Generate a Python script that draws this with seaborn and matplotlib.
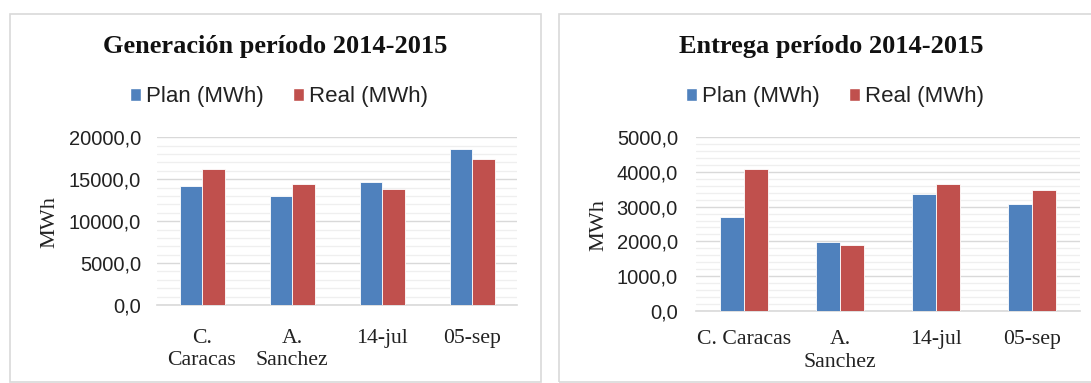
import matplotlib
matplotlib.use("Agg")
import matplotlib.pyplot as plt
from matplotlib.patches import Rectangle, Patch
from matplotlib.ticker import MultipleLocator, FuncFormatter
import pandas as pd
import seaborn as sns

# Data
lugares_gen = ["C.\nCaracas", "A.\nSanchez", "14-jul", "05-sep"]
lugares_ent = ["C. Caracas", "A.\nSanchez", "14-jul", "05-sep"]
series = ["Plan (MWh)", "Real (MWh)"]
gen_plan = [14250, 13050, 14650, 18600]
gen_real = [16250, 14450, 13850, 17400]
ent_plan = [2700, 1970, 3370, 3080]
ent_real = [4080, 1890, 3660, 3470]

titulo_gen = "Generación período 2014-2015"
titulo_ent = "Entrega período 2014-2015"
eje_y = "MWh"

AZUL = "#4F81BD"
ROJO = "#C0504D"
SERIF = ["Liberation Serif", "DejaVu Serif"]

sns.set_theme(style="white")
plt.rcParams["font.family"] = ["Liberation Sans", "DejaVu Sans"]

fig = plt.figure(figsize=(10.91, 3.83), dpi=100)
W, H = 1091, 383


def fx(px):
    return px / W


def fy(py):
    return 1 - py / H


# Panel frames
for x0, x1 in [(10, 541), (559, 1100)]:
    fig.patches.append(Rectangle((fx(x0), fy(381.5)), fx(x1 - x0), (381.5 - 14) / H,
                                 transform=fig.transFigure, fill=False,
                                 edgecolor="#D9D9D9", linewidth=1.2))


def fmt(v, _):
    return f"{v:.1f}".replace(".", ",")


def panel(box, lugares, plan, real, ymax, major, minor, title, title_xy,
          leg_xy, pad_x, pad_y, ylab_xy):
    x0, x1, ytop, ybot = box
    ax = fig.add_axes([fx(x0), fy(ybot), fx(x1 - x0), (ybot - ytop) / H])
    df = pd.DataFrame({
        "lugar": lugares * 2,
        "serie": [series[0]] * len(lugares) + [series[1]] * len(lugares),
        "valor": plan + real,
    })
    sns.barplot(data=df, x="lugar", y="valor", hue="serie", palette=[AZUL, ROJO],
                saturation=1, width=0.5, ax=ax, edgecolor="white", linewidth=0.6,
                zorder=3, legend=False)
    ax.set_ylim(0, ymax)
    ax.set_xlim(-0.5, len(lugares) - 0.5)
    ax.yaxis.set_major_locator(MultipleLocator(major))
    ax.yaxis.set_minor_locator(MultipleLocator(minor))
    ax.yaxis.set_major_formatter(FuncFormatter(fmt))
    ax.grid(which="major", axis="y", color="#D9D9D9", linewidth=1.0, zorder=0)
    ax.grid(which="minor", axis="y", color="#EFEFEF", linewidth=0.9, zorder=0)
    ax.set_axisbelow(True)
    for s in ["top", "right", "left"]:
        ax.spines[s].set_visible(False)
    ax.spines["bottom"].set_color("#D9D9D9")
    ax.spines["bottom"].set_linewidth(1.2)
    ax.tick_params(axis="both", which="both", length=0)
    ax.tick_params(axis="y", labelsize=14.5, pad=pad_y, labelcolor="#222222")
    ax.tick_params(axis="x", pad=pad_x)
    for lab in ax.get_xticklabels():
        lab.set_fontfamily(SERIF)
        lab.set_fontsize(15.7)
        lab.set_color("#222222")
        lab.set_linespacing(1.25)
        lab.set_verticalalignment("top")
    ax.set_xlabel("")
    ax.set_ylabel("")
    fig.text(fx(ylab_xy[0]), fy(ylab_xy[1]), eje_y, rotation=90,
             ha="center", va="center", fontsize=16, color="#222222", family=SERIF)
    fig.text(fx(title_xy[0]), fy(title_xy[1]), title, ha="center", va="center",
             fontsize=19, fontweight="bold", color="#111111", family=SERIF)
    handles = [Patch(facecolor=AZUL, label=series[0]),
               Patch(facecolor=ROJO, label=series[1])]
    fig.legend(handles=handles, loc="center",
               bbox_to_anchor=(fx(leg_xy[0]), fy(leg_xy[1])),
               ncol=2, frameon=False, fontsize=16, handlelength=0.5,
               handleheight=0.5, handletextpad=0.2, columnspacing=1.35,
               labelcolor="#222222")
    return ax


# Left panel: generation
panel((157, 517, 137.3, 305), lugares_gen, gen_plan, gen_real,
      20000, 5000, 1000, titulo_gen, (275, 46.7), (279, 96.7), 17, 11.5, (50, 222))

# Right panel: delivery
panel((696, 1080, 137.3, 310.7), lugares_ent, ent_plan, ent_real,
      5000, 1000, 200, titulo_ent, (831.5, 46.7), (835, 96.7), 14, 13, (599, 225))

fig.savefig("out.png", dpi=100, facecolor="white")
